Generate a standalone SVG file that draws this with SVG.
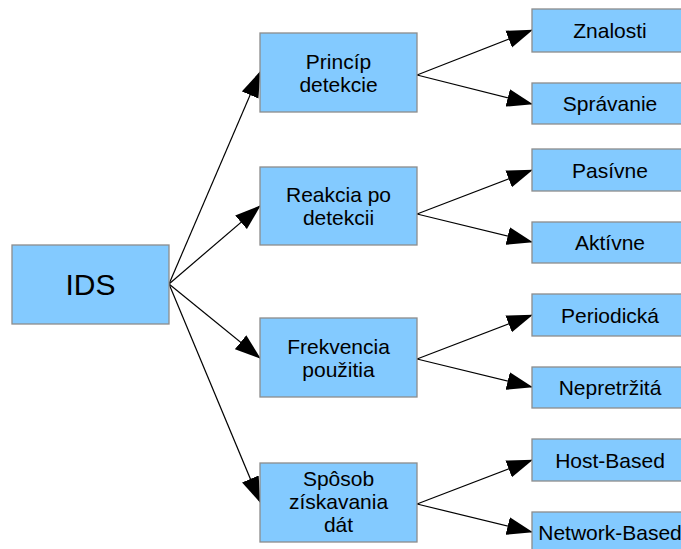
<svg xmlns="http://www.w3.org/2000/svg" width="681" height="549" viewBox="0 0 681 549">
<style>
.box{fill:#83caff;stroke:#8c8c8c;stroke-width:1.3}
.t{font-family:"Liberation Sans",Arial,sans-serif;font-size:21px;fill:#000;text-anchor:middle}
.big{font-size:30px}
.c{stroke:#000;stroke-width:1.2;fill:none;marker-end:url(#ah)}
</style>
<defs>
<marker id="ah" markerUnits="userSpaceOnUse" markerWidth="26" markerHeight="19" refX="25" refY="9" orient="auto" viewBox="0 0 26 18">
<path d="M0,0 L26,9 L0,18 z" fill="#000"/>
</marker>
</defs>
<rect width="681" height="549" fill="#fff"/>
<g id="connectors">
<line class="c" x1="169" y1="284" x2="260" y2="72"/>
<line class="c" x1="169" y1="284" x2="260" y2="206"/>
<line class="c" x1="169" y1="284" x2="260" y2="358"/>
<line class="c" x1="169" y1="284" x2="260" y2="502"/>
<line class="c" x1="417" y1="75" x2="532" y2="30"/>
<line class="c" x1="417" y1="75" x2="532" y2="104"/>
<line class="c" x1="417" y1="214" x2="532" y2="170"/>
<line class="c" x1="417" y1="214" x2="532" y2="242"/>
<line class="c" x1="417" y1="359" x2="532" y2="315"/>
<line class="c" x1="417" y1="359" x2="532" y2="387"/>
<line class="c" x1="417" y1="504" x2="532" y2="460"/>
<line class="c" x1="417" y1="504" x2="532" y2="532"/>
</g>
<g id="ids"><rect class="box" x="12" y="245" width="157" height="79"/><text class="t big" x="90.5" y="295">IDS</text></g>
<g id="princip"><rect class="box" x="260" y="33" width="157" height="79"/><text class="t" x="338.5" y="69">Princíp</text><text class="t" x="338.5" y="92">detekcie</text></g>
<g id="reakcia"><rect class="box" x="260" y="167" width="157" height="78"/><text class="t" x="338.5" y="202">Reakcia po</text><text class="t" x="338.5" y="225">detekcii</text></g>
<g id="frekvencia"><rect class="box" x="260" y="318" width="157" height="79"/><text class="t" x="338.5" y="354">Frekvencia</text><text class="t" x="338.5" y="377">použitia</text></g>
<g id="sposob"><rect class="box" x="260" y="463" width="157" height="79"/><text class="t" x="338.5" y="486">Spôsob</text><text class="t" x="338.5" y="509">získavania</text><text class="t" x="338.5" y="532">dát</text></g>
<g id="znalosti"><rect class="box" x="532" y="9" width="160" height="43"/><text class="t" x="610" y="37.5">Znalosti</text></g>
<g id="spravanie"><rect class="box" x="532" y="83" width="160" height="41"/><text class="t" x="610" y="111">Správanie</text></g>
<g id="pasivne"><rect class="box" x="532" y="149" width="160" height="42"/><text class="t" x="610" y="177.5">Pasívne</text></g>
<g id="aktivne"><rect class="box" x="532" y="222" width="160" height="41"/><text class="t" x="610" y="250">Aktívne</text></g>
<g id="periodicka"><rect class="box" x="532" y="294" width="160" height="42"/><text class="t" x="610" y="322.5">Periodická</text></g>
<g id="nepretrzita"><rect class="box" x="532" y="367" width="160" height="41"/><text class="t" x="610" y="395">Nepretržitá</text></g>
<g id="host"><rect class="box" x="532" y="439" width="160" height="42"/><text class="t" x="610" y="467.5">Host-Based</text></g>
<g id="network"><rect class="box" x="532" y="512" width="160" height="42"/><text class="t" x="610" y="540">Network-Based</text></g>
</svg>
